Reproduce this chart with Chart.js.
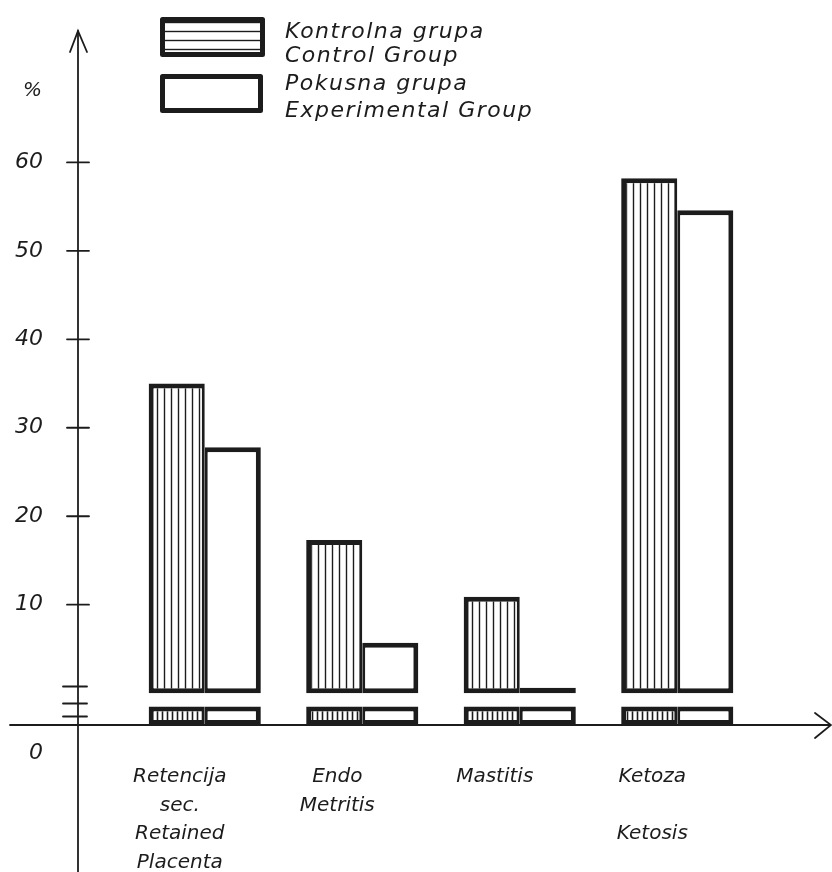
<!DOCTYPE html>
<html>
<head>
<meta charset="utf-8">
<script src="https://cdn.jsdelivr.net/npm/chart.js@4.4.1/dist/chart.umd.min.js"></script>
<style>
html,body{margin:0;padding:0;background:#fff}
</style>
</head>
<body>
<canvas id="chart" width="832" height="872"></canvas>
<script>
// values (% of animals)
const categories=[["Retencija","sec.","Retained","Placenta"],["Endo","Metritis"],["Mastitis"],["Ketoza","","Ketosis"]]
const controlValues=[35,17.3,10.9,58.2]
const experimentalValues=[27.8,5.7,0.6,54.6]
const yTicks=[10,20,30,40,50,60]
const stubRange=[-3.6,-1.5]
const seriesNames=[["Kontrolna grupa","Control Group"],["Pokusna grupa","Experimental Group"]]

const ink="#1c1c1c"
const FAMILY="'DejaVu Sans', sans-serif"

const canvas=document.getElementById("chart")
const ctx=canvas.getContext("2d")

// hatch patterns
function stripes(gap,vertical,width){
const c=document.createElement("canvas")
c.width=vertical?gap:10
c.height=vertical?10:gap
const g=c.getContext("2d")
g.fillStyle="#fff"
g.fillRect(0,0,c.width,c.height)
g.strokeStyle=ink
g.lineWidth=width
g.beginPath()
if(vertical){g.moveTo(gap/2,0);g.lineTo(gap/2,10)}
else{g.moveTo(0,gap/2);g.lineTo(10,gap/2)}
g.stroke()
return ctx.createPattern(c,"repeat")
}

const barHatch=stripes(7,true,1.4)
const stubHatch=stripes(5,true,1.6)
const legendHatch=stripes(9,false,1.4)

const leftBorder={top:5,left:5,bottom:5,right:3}
const rightBorder={top:5,left:3,bottom:5,right:5}

// axes, breaks, extra labels and legend are drawn by hand like the original sketch
const sketchPlugin={
id:"sketch",
afterDraw(chart){
const c=chart.ctx
const y=chart.scales.y
const area=chart.chartArea
const ax=78
const ay=area.bottom

c.save()
c.strokeStyle=ink
c.lineWidth=1.8
c.lineCap="round"

const line=(x1,y1,x2,y2)=>{c.beginPath();c.moveTo(x1,y1);c.lineTo(x2,y2);c.stroke()}

// y axis with arrow
line(ax,872,ax,31)
c.beginPath();c.moveTo(ax-8,52);c.lineTo(ax,31);c.lineTo(ax+9,52);c.stroke()

// x axis with arrow
line(10,ay,830,ay)
c.beginPath();c.moveTo(815,ay-12);c.lineTo(831,ay);c.lineTo(815,ay+13);c.stroke()

// tick marks
yTicks.forEach(v=>{
const p=y.getPixelForValue(v)
line(ax-11,p,ax+11,p)
})

// axis break marks
;[0.75,-1.17,-2.64].forEach(v=>{
const p=y.getPixelForValue(v)
line(ax-15,p,ax+9,p)
})

c.fillStyle=ink
c.font="italic 22px "+FAMILY
c.textAlign="right"
c.textBaseline="middle"
c.fillText("0",43,753)
c.font="italic 20px "+FAMILY
c.fillText("%",42,91)

// legend
const ds=chart.data.datasets
c.lineWidth=5
c.lineCap="butt"
c.lineJoin="round"
c.fillStyle=legendHatch
c.fillRect(162,19,101,36)
c.strokeRect(162.5,19.5,100,35)
c.fillStyle=ds[1].backgroundColor
c.fillRect(162,76,99,35)
c.strokeRect(162.5,76.5,98,34)

c.fillStyle=ink
c.font="italic 22px "+FAMILY
c.textAlign="left"
c.textBaseline="alphabetic"
if("letterSpacing" in c)c.letterSpacing="1.5px"
c.fillText(seriesNames[0][0],285,38)
c.fillText(seriesNames[0][1],285,62)
c.fillText(seriesNames[1][0],285,90)
c.fillText(seriesNames[1][1],285,117)
c.restore()
}
}

new Chart(canvas,{
type:"bar",
data:{
labels:categories,
datasets:[
{label:seriesNames[0][1],data:controlValues,stack:"c",backgroundColor:barHatch,borderColor:ink,borderWidth:leftBorder},
{label:seriesNames[1][1],data:experimentalValues,stack:"e",backgroundColor:"#fff",borderColor:ink,borderWidth:rightBorder},
{label:"break c",data:categories.map(()=>stubRange),stack:"c",backgroundColor:stubHatch,borderColor:ink,borderWidth:leftBorder},
{label:"break e",data:categories.map(()=>stubRange),stack:"e",backgroundColor:"#fff",borderColor:ink,borderWidth:rightBorder}
]
},
options:{
responsive:false,
animation:false,
layout:{padding:{top:35,right:76,left:0,bottom:0}},
datasets:{bar:{categoryPercentage:0.712,barPercentage:1,borderSkipped:false}},
plugins:{legend:{display:false},tooltip:{enabled:false}},
scales:{
x:{
stacked:true,
grid:{display:false},
border:{display:false},
ticks:{color:ink,font:{family:FAMILY,size:20,style:"italic",lineHeight:1.42},padding:30,labelOffset:-25,maxRotation:0,autoSkip:false},
afterFit:s=>{s.height=147}
},
y:{
stacked:false,
min:-3.6,
max:74.4,
grid:{display:false,drawTicks:false},
border:{display:false},
afterBuildTicks:s=>{s.ticks=yTicks.map(v=>({value:v}))},
ticks:{color:ink,font:{family:FAMILY,size:22,style:"italic"},padding:83},
afterFit:s=>{s.width=126;s.paddingTop=0;s.paddingBottom=0}
}
}
},
plugins:[sketchPlugin]
})
</script>
</body>
</html>
